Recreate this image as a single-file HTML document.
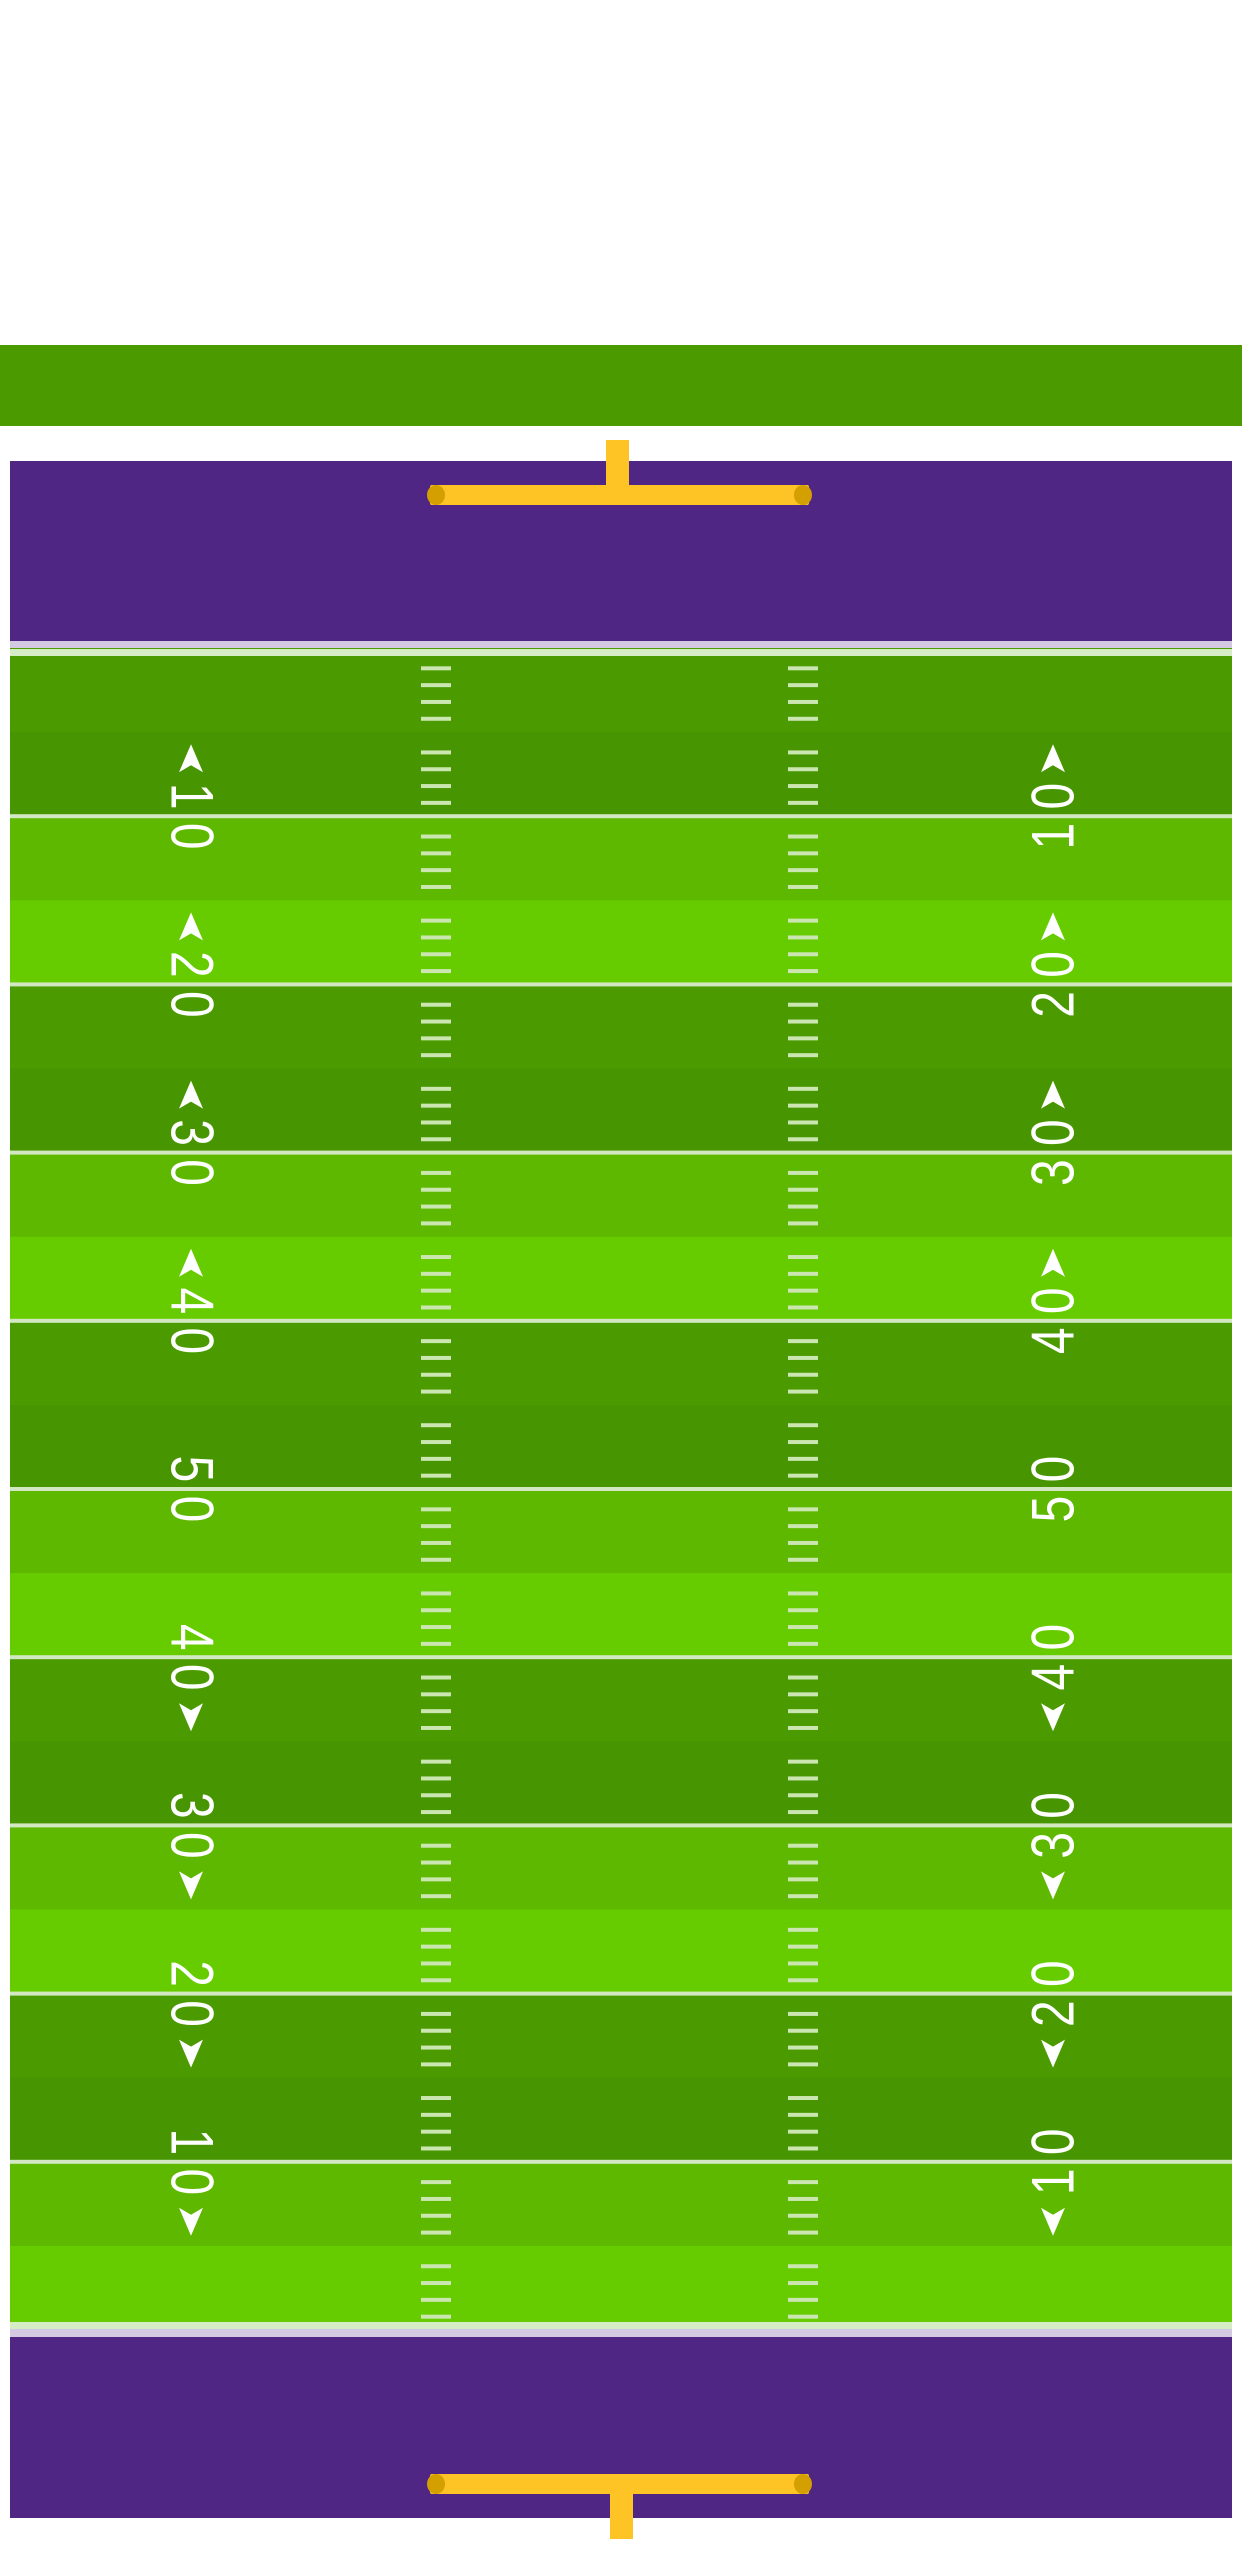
<!DOCTYPE html>
<html><head><meta charset="utf-8"><title>Football Field</title>
<style>
html,body{margin:0;padding:0;background:#fff;}
svg{display:block;}
text{font-family:"Liberation Sans",sans-serif;}
</style></head>
<body>
<svg id="field" width="1242" height="2564" viewBox="0 0 1242 2564" xmlns="http://www.w3.org/2000/svg">
  <rect x="0" y="345" width="1242" height="81" fill="#4a9a00"/>
  <rect x="10" y="461" width="1222" height="181" fill="#502685"/>
  <rect x="10" y="641" width="1222" height="8" fill="#d3c9e2"/>
  <rect x="606" y="440" width="23" height="50" fill="#fec325"/>
  <rect x="430" y="485" width="379" height="20" rx="2" fill="#fec325"/>
  <ellipse cx="436" cy="495" rx="9" ry="10" fill="#d49f00"/>
  <ellipse cx="803" cy="495" rx="9" ry="10" fill="#d49f00"/>
  <g id="bands"></g>
  <g id="lines"></g>
  <g id="hashes"></g>
  <g id="labels"></g>
  <rect x="10" y="2329" width="1222" height="8" fill="#d3c9e2"/>
  <rect x="10" y="2337" width="1222" height="181" fill="#502685"/>
  <rect x="610" y="2484" width="23" height="55" fill="#fec325"/>
  <rect x="430" y="2474" width="379" height="20" rx="2" fill="#fec325"/>
  <ellipse cx="436" cy="2484" rx="9" ry="10" fill="#d49f00"/>
  <ellipse cx="803" cy="2484" rx="9" ry="10" fill="#d49f00"/>
</svg>
<script>
// data
const yardLines = [10,20,30,40,50,60,70,80,90];
const yardLabels = ["10","20","30","40","50","40","30","20","10"];
const arrowDirs = ["up","up","up","up","none","down","down","down","down"];
const bandColors = ["#4a9a00","#479500","#5eb800","#66cc00"];

const NS = "http://www.w3.org/2000/svg";
const fieldTop = 648, fieldBottom = 2330, x0 = 10, fw = 1222;
const yard = (fieldBottom - fieldTop) / 100;
function yScale(yd){ return fieldTop + yd * yard; }
function mk(tag, attrs, parent){
  const el = document.createElementNS(NS, tag);
  for (const k in attrs) el.setAttribute(k, attrs[k]);
  parent.appendChild(el); return el;
}
const gB = document.getElementById('bands'), gL = document.getElementById('lines'),
      gH = document.getElementById('hashes'), gT = document.getElementById('labels');

// 5-yard bands
for (let s = 0; s < 20; s++) {
  const r = mk('rect', {x:x0, y:yScale(s*5), width:fw, height:yScale(s*5+5)-yScale(s*5)+0.5, fill:bandColors[s%4]}, gB);
  
  
}
// goal lines
[0,100].forEach(yd => {
  const r = mk('rect', {x:x0, y:yScale(yd)+(yd===0?1:-8), width:fw, height:7, fill:"#d6ecc4"}, gL);
  
  
});
// yard lines
yardLines.forEach(yd => {
  const r = mk('rect', {x:x0, y:yScale(yd)-2, width:fw, height:4, fill:"#d3e8c2"}, gL);
  
  
});
// hash marks
for (let yd = 1; yd < 100; yd++) {
  if (yd % 5 === 0) continue;
  [421, 788].forEach(hx => {
    const r = mk('rect', {x:hx, y:yScale(yd)+1.5, width:30, height:4, fill:"#cbe6b0"}, gH);
    
    
  });
}
// numbers + arrows
yardLines.forEach((yd, i) => {
  const ly = yScale(yd);
  const digits = yardLabels[i].split('');
  // left side: rotated clockwise, reads top to bottom
  digits.forEach((d, j) => {
    const cy = ly + (j === 0 ? -20 : 20);
    const t = mk('text', {transform:`translate(192,${cy}) rotate(90) scale(0.8,1)`, 'text-anchor':'middle', 'dominant-baseline':'central', 'font-size':60, fill:'#ffffff'}, gT);
    t.textContent = d;
    
    
  });
  // right side: rotated counter-clockwise, reads bottom to top
  digits.forEach((d, j) => {
    const cy = ly + (j === 0 ? 20 : -20);
    const t = mk('text', {transform:`translate(1053,${cy}) rotate(-90) scale(0.8,1)`, 'text-anchor':'middle', 'dominant-baseline':'central', 'font-size':60, fill:'#ffffff'}, gT);
    t.textContent = d;
    
    
  });
  if (arrowDirs[i] !== 'none') {
    const up = arrowDirs[i] === 'up';
    const cy = up ? ly - 58 : ly + 60;
    [191, 1053].forEach(ax => {
      const pts = up
        ? `${ax},${cy-14} ${ax+12},${cy+14} ${ax},${cy+7} ${ax-12},${cy+14}`
        : `${ax},${cy+14} ${ax+12},${cy-14} ${ax},${cy-7} ${ax-12},${cy-14}`;
      const p = mk('polygon', {points:pts, fill:'#ffffff'}, gT);
      
      
    });
  }
});
</script>
</body></html>
